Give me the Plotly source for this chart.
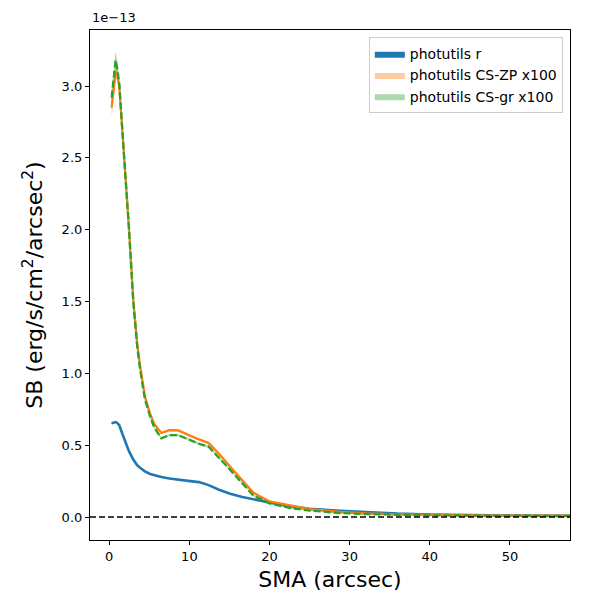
import plotly.graph_objects as go

# SMA values (arcsec)
sma = [0.3, 0.6, 0.8, 1.0, 1.25, 1.6, 2.0, 2.45, 3.0, 3.5, 3.85, 4.45, 5.1, 5.6,
       6.5, 7.5, 8.6, 10.1, 11.2, 12.4, 13.7, 15.1, 16.6, 18.0, 20.0, 22.6, 25.0,
       28.8, 32.0, 36.0, 40.0, 45.0, 50.0, 57.5]

# Surface brightness in units of 1e-13 erg/s/cm^2/arcsec^2
sb_r = [0.652, 0.658, 0.661, 0.655, 0.64, 0.585, 0.53, 0.46, 0.40, 0.36, 0.343,
        0.318, 0.300, 0.292, 0.279, 0.268, 0.259, 0.250, 0.243, 0.222, 0.19,
        0.162, 0.14, 0.123, 0.101, 0.075, 0.058, 0.044, 0.033, 0.024, 0.018,
        0.013, 0.010, 0.008]
sb_zp = [2.85, 3.0, 3.1, 3.08, 3.0, 2.72, 2.4, 2.02, 1.51, 1.2, 1.05, 0.84, 0.72,
         0.65, 0.585, 0.605, 0.603, 0.565, 0.54, 0.515, 0.44, 0.35, 0.255, 0.168,
         0.108, 0.078, 0.055, 0.035, 0.025, 0.018, 0.014, 0.011, 0.010, 0.009]
sb_gr = [2.92, 3.08, 3.18, 3.12, 3.02, 2.72, 2.4, 2.02, 1.50, 1.18, 1.03, 0.82,
         0.70, 0.625, 0.548, 0.57, 0.57, 0.535, 0.51, 0.49, 0.415, 0.328, 0.235,
         0.148, 0.095, 0.062, 0.045, 0.028, 0.020, 0.015, 0.012, 0.010, 0.009,
         0.008]

# half-widths of uncertainty bands
err_r = [0.004, 0.004, 0.004, 0.004, 0.004, 0.004, 0.003, 0.003, 0.003, 0.003,
         0.003, 0.003, 0.003, 0.003, 0.003, 0.003, 0.003, 0.003, 0.003, 0.003,
         0.003, 0.003, 0.003, 0.003, 0.003, 0.003, 0.003, 0.003, 0.003, 0.003,
         0.003, 0.003, 0.003, 0.003]
err_zp = [0.06, 0.05, 0.05, 0.04, 0.03, 0.02, 0.02, 0.015, 0.01, 0.01, 0.01,
          0.01, 0.008, 0.008, 0.008, 0.008, 0.008, 0.008, 0.008, 0.008, 0.008,
          0.006, 0.006, 0.006, 0.005, 0.005, 0.004, 0.004, 0.004, 0.004, 0.004,
          0.004, 0.004, 0.004]
err_gr = [0.06, 0.06, 0.06, 0.05, 0.03, 0.02, 0.02, 0.015, 0.01, 0.01, 0.01,
          0.01, 0.008, 0.008, 0.008, 0.008, 0.008, 0.008, 0.008, 0.008, 0.008,
          0.006, 0.006, 0.006, 0.005, 0.005, 0.004, 0.004, 0.004, 0.004, 0.004,
          0.004, 0.004, 0.004]

names = ["photutils r", "photutils CS-ZP x100", "photutils CS-gr x100"]
fill_colors = ["rgba(31,119,180,1)", "rgba(255,127,14,0.4)", "rgba(44,160,44,0.4)"]
line_colors = ["#1f77b4", "#ff7f0e", "#2ca02c"]
dashes = ["solid", "solid", "7px,3px"]
widths = [2.6, 2.3, 2.3]

fig = go.Figure()
series = [sb_r, sb_zp, sb_gr]
errs = [err_r, err_zp, err_gr]
for i in range(3):
    y = series[i]
    e = errs[i]
    up = [a + b for a, b in zip(y, e)]
    lo = [a - b for a, b in zip(y, e)]
    fig.add_trace(go.Scatter(
        x=sma + sma[::-1], y=up + lo[::-1], fill="toself",
        fillcolor=fill_colors[i], line=dict(width=0, color=fill_colors[i]),
        mode="lines", name=names[i], hoverinfo="skip"))
for i in range(3):
    fig.add_trace(go.Scatter(
        x=sma, y=series[i], mode="lines", showlegend=False,
        line=dict(color=line_colors[i], width=widths[i], dash=dashes[i])))

fig.add_shape(type="line", xref="paper", x0=0, x1=1, yref="y", y0=0, y1=0,
              line=dict(color="black", width=1.5, dash="6px,3px"))

fig.add_annotation(text="1e\u221213", xref="paper", yref="paper", x=0, y=1,
                   xanchor="left", yanchor="bottom", showarrow=False,
                   font=dict(size=13, color="black"), yshift=3)

axis_common = dict(showline=True, linecolor="black", linewidth=1.2, mirror=True,
                   ticks="outside", ticklen=4, tickcolor="black", showgrid=False,
                   zeroline=False, tickfont=dict(size=13, color="black"))

fig.update_layout(
    width=600, height=600,
    margin=dict(l=90, r=30, t=30, b=60),
    paper_bgcolor="white", plot_bgcolor="white",
    font=dict(family="DejaVu Sans", color="black"),
    xaxis=dict(range=[-2.4, 57.5], tickvals=[0, 10, 20, 30, 40, 50],
               title=dict(text="SMA (arcsec)", font=dict(size=22), standoff=8),
               **axis_common),
    yaxis=dict(range=[-0.16, 3.39], tickvals=[0, 0.5, 1.0, 1.5, 2.0, 2.5, 3.0],
               tickformat=".1f",
               title=dict(text="SB (erg/s/cm<sup>2</sup>/arcsec<sup>2</sup>)",
                          font=dict(size=22), standoff=12),
               **axis_common),
    legend=dict(x=0.985, y=0.986, xanchor="right", yanchor="top",
                bgcolor="rgba(255,255,255,0.8)", bordercolor="#cccccc",
                borderwidth=1, font=dict(size=14), tracegroupgap=0),
    showlegend=True,
)

fig.write_html("out.html", config={"displayModeBar": False},
               post_script="document.body.style.margin='0';document.body.style.padding='0';")
